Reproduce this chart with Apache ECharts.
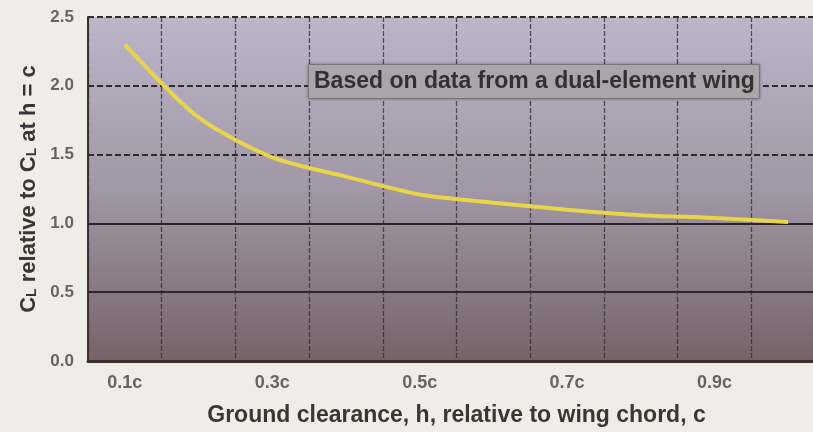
<!DOCTYPE html>
<html>
<head>
<meta charset="utf-8">
<script src="https://cdn.jsdelivr.net/npm/echarts@6/dist/echarts.min.js"></script>
<style>
html,body{margin:0;padding:0;background:#efeee6;overflow:hidden;width:813px;height:432px;}
#chart{width:825px;height:432px;}
</style>
</head>
<body>
<div id="chart"></div>
<script>
// ---- data ----
const categories = ['0.1c','0.2c','0.3c','0.4c','0.5c','0.6c','0.7c','0.8c','0.9c','1.0c'];
const liftRatio = [2.30, 1.77, 1.48, 1.34, 1.21, 1.15, 1.10, 1.06, 1.04, 1.01];
const yTicks = [0.0, 0.5, 1.0, 1.5, 2.0, 2.5];
const solidLevels = [0.5, 1.0];
const annotation = 'Based on data from a dual-element wing';
const xTitle = 'Ground clearance, h, relative to wing chord, c';

const chart = echarts.init(document.getElementById('chart'));
const option = {
  backgroundColor: '#efeee6',
  animation: false,
  grid: {
    left: 88, right: 0, top: 17, bottom: 71,
    show: true,
    borderWidth: 0,
    backgroundColor: new echarts.graphic.LinearGradient(0, 0, 0, 1, [
      {offset: 0, color: '#bcb6c9'},
      {offset: 0.5, color: '#a197a6'},
      {offset: 1, color: '#76636a'}
    ])
  },
  xAxis: {
    type: 'category',
    data: categories,
    boundaryGap: true,
    axisLine: {show: true, lineStyle: {color: '#3a3032', width: 3}},
    axisTick: {show: false},
    axisLabel: {
      interval: 1, margin: 13,
      color: '#666464', fontFamily: 'Liberation Sans', fontWeight: 'bold', fontSize: 18
    },
    splitLine: {show: true, interval: 0, lineStyle: {color: 'rgba(55,45,50,0.8)', width: 1.3, type: [5, 2]}},
    name: xTitle,
    nameLocation: 'middle',
    nameGap: 43,
    nameTextStyle: {color: '#383636', fontFamily: 'Liberation Sans', fontWeight: 'bold', fontSize: 23}
  },
  yAxis: {
    type: 'value',
    min: yTicks[0], max: yTicks[yTicks.length - 1], interval: 0.5,
    axisLine: {show: true, lineStyle: {color: '#3a3032', width: 2}},
    axisTick: {show: false},
    axisLabel: {
      margin: 14, color: '#666464', fontFamily: 'Liberation Sans', fontWeight: 'bold', fontSize: 17,
      formatter: v => v.toFixed(1)
    },
    splitLine: {show: true, lineStyle: {color: '#2f2a2c', width: 2, type: [6, 3]}},
    name: '{a|C}{s|L}{a| relative to C}{s|L}{a| at h = c}',
    nameLocation: 'middle',
    nameGap: 46,
    nameTextStyle: {
      rich: {
        a: {color: '#383636', fontFamily: 'Liberation Sans', fontWeight: 'bold', fontSize: 22},
        s: {color: '#383636', fontFamily: 'Liberation Sans', fontWeight: 'bold', fontSize: 14, verticalAlign: 'bottom', padding: [7, 0, 0, 0]}
      }
    }
  },
  series: [{
    type: 'line',
    data: liftRatio,
    smooth: 0.25,
    symbol: 'none',
    z: 5,
    lineStyle: {color: '#e9d54c', width: 4},
    markLine: {
      silent: true,
      symbol: 'none',
      label: {show: false},
      lineStyle: {color: '#2b2527', width: 2, type: 'solid'},
      data: solidLevels.map(v => ({yAxis: v}))
    }
  }],
  graphic: [{
    type: 'text',
    left: 308, top: 64, z: 10,
    style: {
      text: annotation,
      fill: '#333030',
      font: 'bold 23px "Liberation Sans"',
      backgroundColor: '#aba5ab',
      borderColor: '#8a8388',
      borderWidth: 1,
      padding: [5, 4, 5, 5],
      shadowBlur: 3,
      shadowColor: 'rgba(0,0,0,0.3)'
    }
  }]
};
chart.setOption(option);
</script>
</body>
</html>
